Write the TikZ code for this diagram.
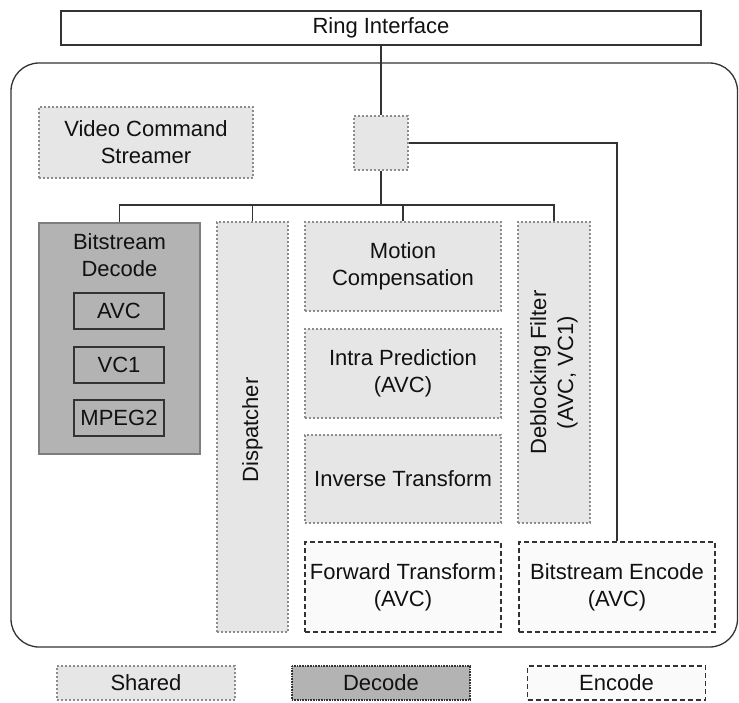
\documentclass[tikz,border=0pt]{standalone}
\usepackage{fontspec}
\setmainfont{Liberation Sans}
\definecolor{sharedfill}{HTML}{E6E6E6}
\definecolor{decodefill}{HTML}{B3B3B3}
\definecolor{encodefill}{HTML}{FAFAFA}
\definecolor{linecol}{HTML}{333333}
\definecolor{dotcol}{HTML}{8C8C8C}
\definecolor{txtcol}{HTML}{111111}
\begin{document}
\begin{tikzpicture}[x=1pt,y=-1pt,
  every node/.style={font=\fontsize{22}{27}\selectfont, text=txtcol, align=center, inner sep=0pt},
  shared/.style={draw=dotcol, fill=sharedfill, line width=1.3pt, dash pattern=on 1.6pt off 2.4pt},
  decode/.style={draw=dotcol!90!black, fill=decodefill, line width=1.3pt},
  subbox/.style={draw=linecol, fill=decodefill, line width=1.3pt, minimum width=90pt, minimum height=36pt},
  encode/.style={draw=linecol, fill=encodefill, line width=1.3pt, dash pattern=on 5pt off 3pt},
  wire/.style={draw=linecol, line width=1.3pt}
]
\useasboundingbox (0,0) rectangle (739,702);

% outer frame
\draw[linecol, line width=1.3pt, rounded corners=28pt] (11,63) rectangle (737.5,647);

% ring interface
\node[draw=linecol, line width=1.3pt, fill=white, minimum width=640pt, minimum height=34pt] (ring) at (381,28) {Ring Interface};

% top row
\node[shared, minimum width=214pt, minimum height=71pt] (vcs) at (146,142.5) {Video Command\\Streamer};
\node[shared, minimum width=54pt, minimum height=54pt] (hub) at (381,143) {};

% bitstream decode
\node[decode, minimum width=161pt, minimum height=231pt] (bsd) at (119.5,338.5) {};
\node[anchor=north] (bsdlabel) at (119.5,233) {Bitstream\\Decode};
\node[subbox] (avc) at (119,311) {AVC};
\node[subbox] (vc1) at (119,365) {VC1};
\node[subbox] (mpeg) at (119,418) {MPEG2};

% dispatcher
\node[shared, minimum width=71pt, minimum height=410pt] (disp) at (252.5,427) {};
\node[rotate=90] (displabel) at (252.5,430) {Dispatcher};

% middle column
\node[shared, minimum width=196pt, minimum height=89pt] (mc) at (403,266.5) {Motion\\Compensation};
\node[shared, minimum width=196pt, minimum height=89pt] (ip) at (403,373.5) {Intra Prediction\\(AVC)};
\node[shared, minimum width=196pt, minimum height=88pt] (it) at (403,479) {Inverse Transform};

% deblocking
\node[shared, minimum width=72pt, minimum height=301pt] (db) at (554,372.5) {};
\node[rotate=90] (dblabel) at (554,372.5) {Deblocking Filter\\(AVC, VC1)};

% encode blocks
\node[encode, minimum width=196pt, minimum height=90pt] (ft) at (403,587) {Forward Transform\\(AVC)};
\node[encode, minimum width=196pt, minimum height=90pt] (be) at (617,587) {Bitstream Encode\\(AVC)};

% connectors
\coordinate (bus) at (381,205);
\draw[wire] (ring.south) -- (hub.north);
\draw[wire] (hub.south) -- (bus);
\draw[wire] (bsd.north) |- (bus) -| (db.north);
\draw[wire] (disp.north) -- (disp.north |- bus);
\draw[wire] (mc.north) -- (mc.north |- bus);
\draw[wire] (hub.east) -| (be.north);

% legend
\node[shared, minimum width=178pt, minimum height=34pt] (lshared) at (146,683) {Shared};
\node[draw=linecol, fill=decodefill, line width=1.3pt, dash pattern=on 1pt off 0.6pt, minimum width=178pt, minimum height=34pt] (ldecode) at (381,683) {Decode};
\node[encode, minimum width=178pt, minimum height=34pt] (lencode) at (616.5,683) {Encode};
\end{tikzpicture}
\end{document}
